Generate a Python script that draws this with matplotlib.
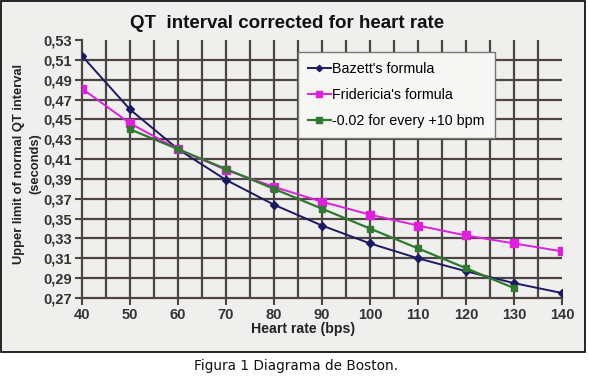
import matplotlib.pyplot as plt
import matplotlib.patches as patches
import numpy as np

# Heart rate (bpm) and QT upper limits (seconds)
heart_rate = [40, 50, 60, 70, 80, 90, 100, 110, 120, 130, 140]
bazett = [0.514, 0.460, 0.420, 0.389, 0.364, 0.343, 0.325, 0.310, 0.297, 0.285, 0.275]
fridericia = [0.481, 0.446, 0.420, 0.399, 0.382, 0.367, 0.354, 0.343, 0.333, 0.325, 0.317]
rate_green = [50, 60, 70, 80, 90, 100, 110, 120, 130]
minus_002 = [0.440, 0.420, 0.400, 0.380, 0.360, 0.340, 0.320, 0.300, 0.280]

x_ticks = [40, 50, 60, 70, 80, 90, 100, 110, 120, 130, 140]
y_ticks = [0.27, 0.29, 0.31, 0.33, 0.35, 0.37, 0.39, 0.41, 0.43, 0.45, 0.47, 0.49, 0.51, 0.53]
y_labels = [f"{v:.2f}".replace(".", ",") for v in y_ticks]

plt.rcParams['font.family'] = ['Liberation Sans', 'DejaVu Sans']

bg = '#efefed'
grid_c = '#4d4541'

fig = plt.figure(figsize=(5.89, 3.77), dpi=100)
fig.patch.set_facecolor('white')

# outer chart frame
frame = patches.Rectangle((1 / 589, 1 - 352 / 377), 584 / 589, 351 / 377,
                          transform=fig.transFigure, facecolor=bg,
                          edgecolor='black', linewidth=1.2, zorder=-10)
fig.patches.append(frame)

ax = fig.add_axes([82 / 589, 1 - 298 / 377, 480 / 589, 258 / 377])
ax.set_facecolor(bg)
ax.set_xlim(40, 140)
ax.set_ylim(0.27, 0.53)

# grid: verticals every 5 up to 135, horizontals 0.29..0.51
for xv in np.arange(45, 140, 5):
    ax.plot([xv, xv], [0.27, 0.53], color=grid_c, lw=1.6, zorder=1)
for yv in y_ticks[1:-1]:
    ax.plot([40, 140], [yv, yv], color=grid_c, lw=1.6, zorder=1)

for s in ['top', 'right']:
    ax.spines[s].set_visible(False)
for s in ['left', 'bottom']:
    ax.spines[s].set_color(grid_c)
    ax.spines[s].set_linewidth(1.6)

ax.plot(heart_rate, bazett, color='#1c1a64', marker='D', markersize=4,
        lw=1.4, label="Bazett's formula", zorder=3)
ax.plot(heart_rate, fridericia, color='#e01ee0', marker='s', markersize=6,
        lw=1.4, label="Fridericia's formula", zorder=3)
ax.plot(rate_green, minus_002, color='#2f7a2f', marker='s', markersize=5,
        lw=1.6, label="-0.02 for every +10 bpm", zorder=4)

ax.set_xticks(x_ticks)
ax.set_yticks(y_ticks)
ax.set_yticklabels(y_labels)
ax.tick_params(axis='both', direction='out', length=5, width=1.5,
               color=grid_c, labelsize=10.5, labelcolor='#333333', pad=2)
for lbl in ax.get_xticklabels() + ax.get_yticklabels():
    lbl.set_fontweight('bold')

ax.set_xlabel('Heart rate (bps)', fontsize=10.2, fontweight='bold',
              color='#222222')
ax.xaxis.set_label_coords((303 - 82) / 480, -(329 - 298) / 258)
ax.xaxis.label.set_va('center')
ax.set_ylabel('Upper limit of normal QT interval\n(seconds)', fontsize=9.3,
              fontweight='bold', color='#222222', linespacing=1.45)
ax.yaxis.set_label_coords(-(82 - 27) / 480, (298 - 164) / 258)
ax.yaxis.label.set_va('center')

fig.text(287 / 589, 1 - 24 / 377, 'QT  interval corrected for heart rate',
         ha='center', va='center', fontsize=13.5, fontweight='bold',
         color='#111111')

leg = ax.legend(loc='upper left', bbox_to_anchor=(0.45, 0.955),
                fontsize=10.3, frameon=True, fancybox=False, handlelength=1.6,
                labelspacing=0.85, borderpad=0.7, handletextpad=0.1,
                borderaxespad=0, markerscale=0.8)
leg.get_frame().set_facecolor('#f6f6f4')
leg.get_frame().set_edgecolor('#777777')
leg.get_frame().set_linewidth(1.0)
leg.get_frame().set_alpha(1)
leg.set_zorder(5)

fig.text(296 / 589, 1 - 366 / 377, 'Figura 1 Diagrama de Boston.',
         ha='center', va='center', fontsize=9.8, family='DejaVu Sans',
         color='#111111')

fig.savefig('out.png', dpi=100, facecolor=fig.get_facecolor())
